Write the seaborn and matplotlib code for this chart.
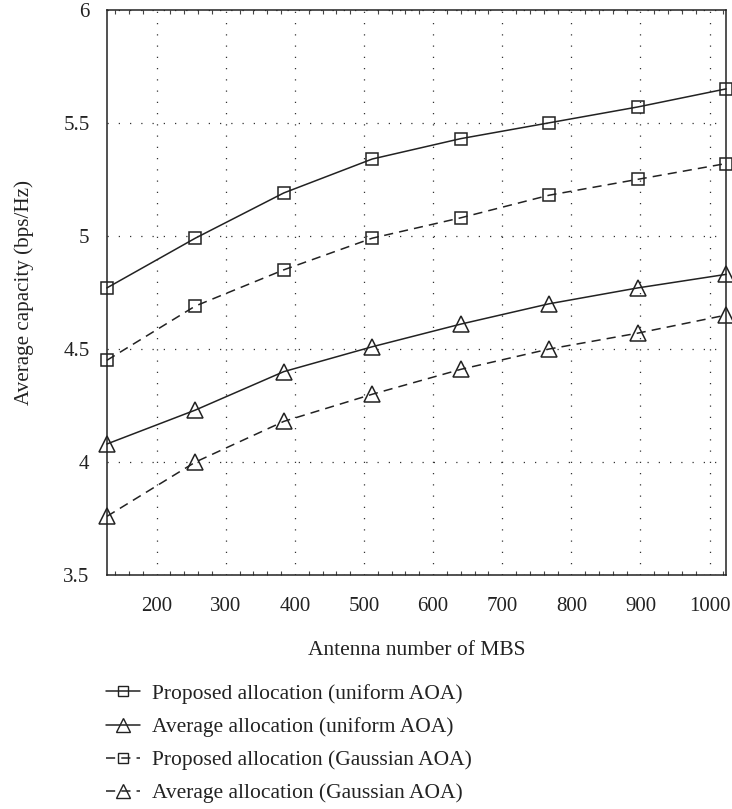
import numpy as np
import pandas as pd
import matplotlib
matplotlib.use('Agg')
import matplotlib.pyplot as plt
import seaborn as sns
from matplotlib.ticker import MultipleLocator
from matplotlib.lines import Line2D

# данные
antennas = [128, 256, 384, 512, 640, 768, 896, 1024]
proposed_uniform = [4.77, 4.99, 5.19, 5.34, 5.43, 5.50, 5.57, 5.65]
average_uniform = [4.08, 4.23, 4.40, 4.51, 4.61, 4.70, 4.77, 4.83]
proposed_gauss = [4.45, 4.69, 4.85, 4.99, 5.08, 5.18, 5.25, 5.32]
average_gauss = [3.76, 4.00, 4.18, 4.30, 4.41, 4.50, 4.57, 4.65]
labels = ['Proposed allocation (uniform AOA)',
          'Average allocation (uniform AOA)',
          'Proposed allocation (Gaussian AOA)',
          'Average allocation (Gaussian AOA)']
ytick_labels = ['3.5', '4', '4.5', '5', '5.5', '6']

sns.set_style('white')
plt.rcParams['font.family'] = ['Liberation Serif', 'DejaVu Serif']

fig = plt.figure(figsize=(7.32, 8.09), dpi=100)
ax = fig.add_axes([0.146, 0.289, 0.846, 0.699])

series = [proposed_uniform, average_uniform, proposed_gauss, average_gauss]
markers = ['s', '^', 's', '^']
msizes = [8, 11, 8, 11]
dashes = ['-', '-', (0, (6, 4)), (0, (6, 4))]
for vals, m, ms, ls, lab in zip(series, markers, msizes, dashes, labels):
    sns.lineplot(x=antennas, y=vals, ax=ax, color='#222222', lw=1.1,
                 linestyle=ls, marker=m, markersize=ms, markerfacecolor='none',
                 markeredgecolor='#222222', markeredgewidth=1.1, label=lab,
                 legend=False, clip_on=False, zorder=3)

ax.set_xlim(128, 1024)
ax.set_ylim(3.5, 6)
ax.xaxis.set_major_locator(MultipleLocator(100))
ax.xaxis.set_minor_locator(MultipleLocator(20))
ax.set_yticks([float(t) for t in ytick_labels])
ax.set_yticklabels(ytick_labels)
ax.grid(True, which='major', linestyle=(0, (1, 8)), color='#333333', lw=0.9)
ax.tick_params(axis='both', which='major', direction='out', length=7.5,
               width=1, labelsize=15, color='#222222', labelcolor='#222222')
ax.tick_params(axis='x', which='major', pad=8)
ax.tick_params(axis='y', which='major', pad=5)
ax.tick_params(axis='x', which='minor', direction='in', length=3, top=True,
               bottom=True, width=0.8, color='#444444')
ax.tick_params(axis='x', which='major', top=False)
for s in ax.spines.values():
    s.set_color('#222222')
    s.set_linewidth(1.1)

ax.set_xlabel('Antenna number of MBS', fontsize=15.5, labelpad=18, color='#222222')
ax.set_ylabel('Average capacity (bps/Hz)', fontsize=15.2, labelpad=0, color='#222222')
ax.yaxis.set_label_coords(-0.118, 0.5)

handles = []
for m, ls in zip(markers, dashes):
    handles.append(Line2D([], [], color='#222222', lw=1.1, linestyle=ls, marker=m,
                          markersize=7 if m == 's' else 10,
                          markerfacecolor='none', markeredgecolor='#222222'))
ax.legend(handles, labels, loc='upper left', bbox_to_anchor=(-0.002, -0.192),
          frameon=False, fontsize=15.5, handlelength=1.6, handletextpad=0.56,
          labelspacing=0.61, borderaxespad=0, borderpad=0, labelcolor='#222222')

fig.savefig('out.png', dpi=100)
